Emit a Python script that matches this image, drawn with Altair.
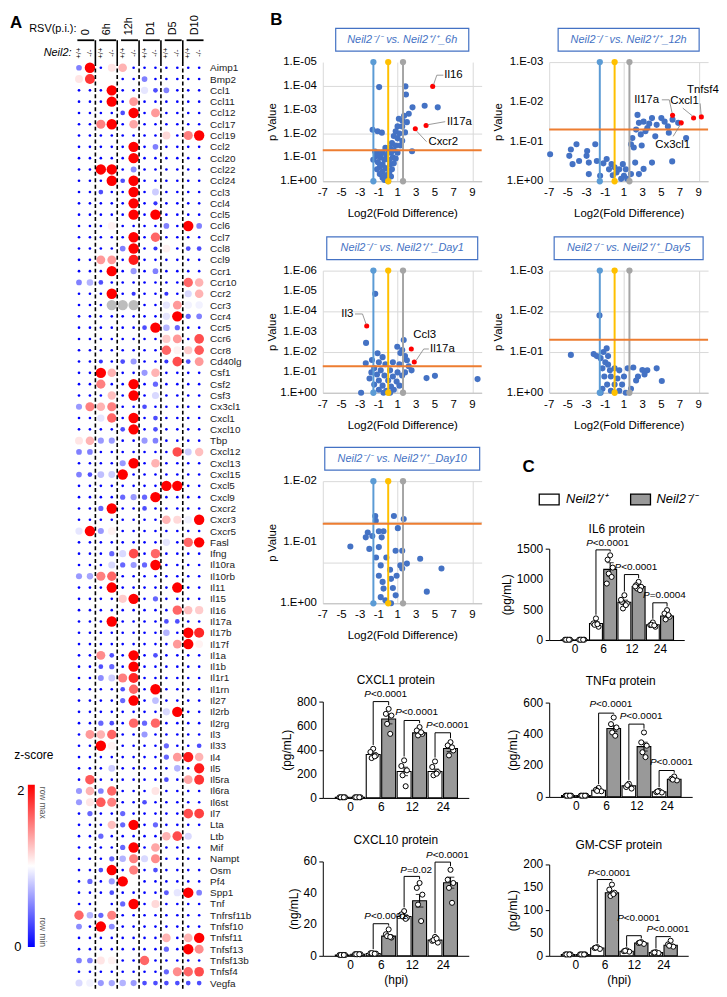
import altair as alt
import pandas as pd

FONT = "Liberation Sans"
BLUE = "#4472C4"
GRAYBAR = "#999999"

# ---------------- Panel A data ----------------
genes = ["Aimp1","Bmp2","Ccl1","Ccl11","Ccl12","Ccl17","Ccl19","Ccl2","Ccl20","Ccl22","Ccl24","Ccl3","Ccl4","Ccl5",
         "Ccl6","Ccl7","Ccl8","Ccl9","Ccr1","Ccr10","Ccr2","Ccr3","Ccr4","Ccr5","Ccr6","Ccr8","Cd40lg","Csf1","Csf2",
         "Csf3","Cx3cl1","Cxcl1","Cxcl10","Tbp","Cxcl12","Cxcl13","Cxcl15","Cxcl5","Cxcl9","Cxcr2","Cxcr3","Cxcr5",
         "Fasl","Ifng","Il10ra","Il10rb","Il11","Il15","Il16","Il17a","Il17b","Il17f","Il1a","Il1b","Il1r1","Il1rn",
         "Il27","Il2rb","Il2rg","Il3","Il33","Il4","Il5","Il5ra","Il6ra","Il6st","Il7","Lta","Ltb","Mif","Nampt","Osm",
         "Pf4","Spp1","Tnf","Tnfrsf11b","Tnfsf10","Tnfsf11","Tnfsf13","Tnfsf13b","Tnfsf4","Vegfa"]
time_groups = ["0", "6h", "12h", "D1", "D5", "D10"]
genotype_tags = ["+/+", "-/-"]
zscore = [
    [0.5,2,0,1.1,1.3,0,0,0,0,0,0,0],
    [1.1,1.8,1.0,1.0,0,0,0.5,0,0,0,0,0],
    [0,0,0,2,0,0,0.9,0.3,0.5,0,0,0],
    [0,0,0,2,0,1.4,0,0,0,0,0,0],
    [0,0,0,0,0.3,2,0,1.4,0,0,0,0],
    [0,0,1.5,2,0,1.35,0,0,0,0,0,0],
    [0,0,0,0,0,0,0,0,1.15,0,1.5,2],
    [0,0,0,0,0,2,0,0.5,0,0,0,0],
    [0,0,0,0,0,2,0,0,0,0,0,0],
    [0,0,2,2,0,0.55,0,0,0,0,0,0],
    [0,0,0,2,0.3,2,0,0,0,0,0,0],
    [0,0,0.3,0,0,2,0,0.8,0,0,0,0],
    [0,0,0,0,0,2,0,0.2,0,0,0,0],
    [0,0,0,0,0,2,0,2,0,0,0,0],
    [0,0,0,1.05,0,0,0,0,0.5,0,2,0.5],
    [0,0,0,0,0,2,0,1.6,0,0,0,0],
    [0,0,0,0,0.5,2,0,0.2,1.05,0,0.3,0.3],
    [0,0,1.4,1.4,0,1.9,0,0,0,0,0,0],
    [0,0,0,2,0,0.6,0,0.5,0,0,0,0],
    [0.5,0.7,0.3,0,0,0,0,0,0,0,1.6,1.3],
    [0,0,0,2,0,0.2,0,0,0.2,0,0.85,1.3],
    [0,0,0,None,None,None,0,0,0.9,1.4,0.95,0.95],
    [0,0,0,0,0,0,0,0,0.9,2,0.4,0.5],
    [0,0,0,0,0,0,0.3,2,0.7,0.4,0,0],
    [0,0,0,0,0,0,0,0,1.2,1.4,0,1.7],
    [0,0,0,0,0,0,0,0,1.6,1.05,1.2,1.65],
    [0,0,0.2,0,0.3,0.6,0,0,0.2,1.7,0.3,1.4],
    [0,0,2,1.3,0,0,0.6,1.3,0,0,0,0],
    [0,0,1.5,0,0,2,0,0.4,0,0,0,0],
    [0,0,0,1.25,0,2,0,0.85,0,0,0,0],
    [0.6,1.5,1.3,1.5,0,0,0.3,0,0,0,0,0],
    [0,0,0.9,1.6,0,2,0,0.3,0,0,0,0],
    [0,0,0,0,0.3,2,0,0.3,0,0,0,0],
    [1.1,1.3,0.6,0.6,0,0,0.6,0.5,0,0,0,0],
    [0.5,0.5,0,0,0,0,0,0,0,1.7,0.8,1.25],
    [0,0,0,0,0.6,2,0,1.3,0,0,0,0],
    [0.5,0.3,0.75,0.8,2,0,0,0,0,0,0,0],
    [0,0,0,0,0,0,0,0,2,2,0,0],
    [0,0,0,0,0.4,0.6,0.4,2,0,0,0,0],
    [0,0,0.4,2,0,0,0.3,0,0,0,0,0],
    [0,0,0,0,0,0,0,0,1.3,1.15,0.95,2],
    [0.9,2,0.6,1.05,0,0,0,0,0,0,0,0],
    [0,0,0,0,0,0,0,0,0.9,0,1.6,2],
    [0,0,0,0.4,0.85,1.7,0,1.6,0,0,0,0],
    [0,0,0,0.85,0.4,0.6,0.4,2,0,0,0,0],
    [0.6,0.65,1.5,1.6,0,0,0,0,0,0,0,0],
    [0,0,0,2,0,0,0,0,0,2,0,0],
    [0,0,0,0,1.2,2,0,0.4,0,0,0,0],
    [0,0,0,0,0,0,0,0,0,1.6,1.25,1.2],
    [0,0,0,2,0,0,0,0,0.3,0.3,0,0],
    [0,0,0,0,0,0,0,0,0.7,0,2,1.85],
    [0,0,0,0,0,0,0,0,0,1.4,2,1.05],
    [0,0,1.45,0.3,0,2,0,0.3,0,0,0,0],
    [0,0,0.3,0.4,0,2,0,0,0,0,0,0],
    [0,0,0.55,0.8,1.5,1.85,0,0,0,0,0,0],
    [0,0,0,0,0.3,1.6,0,2,0,0,0,0],
    [0,0,0,0,0.4,2,0,0.75,0,0,0,0],
    [0,0,0,0,0,0,0,0,0.85,2,0,0],
    [0,0,0.4,0.3,0,1.6,0.4,1.6,0,0,0,0],
    [0,1.4,1.3,1.6,0,0,0.6,0,0,0,0,0],
    [0,0,2,1.05,0,0,0,0,0.4,0,0,0.3],
    [0,0,0,0,0,0,0,0,0.4,1.4,1.9,1.3],
    [0,0,0,0.8,0,0,0,0,0,0.7,0,1.9],
    [0,1.65,0,0,0,0,0,0,0.3,0,1.35,1.8],
    [0.6,1.3,0.5,1.6,0,0,0,1.1,0,0,0,0],
    [0.6,1.1,1.65,1.5,0,0,0.3,0,0,0,0,0],
    [0,0.4,0,0,0.4,0,0,0,0,0,1.7,1.75],
    [0,0,0,1.25,0.4,2,0,0.4,0,0,0,0],
    [0,0,0.4,0,0,0,0,0,1.3,1.7,0.85,1.0],
    [0,0,0,0,0.4,2,0,1.35,0,0,0,0],
    [0,0,0,0.4,0.7,1.5,0.85,1.45,0,0,0,0],
    [0,0,0.3,2,0,1.5,0,0.3,0,0,0,0],
    [0,0.4,0,0.6,2,1.0,0,0,0,0,0,0],
    [0,0,0,0.3,0,0,0,0,0.35,0.9,2,0.5],
    [0,0,1.0,0,0.4,2,0,1.15,0,0,0,0],
    [1.6,0.7,0.4,1.5,0,0,0,0,0,0,0,0],
    [0.55,0,2,0.55,0,0,0,0,0,0,0,0],
    [0,0,0,0,0,0,0,0,1.3,0,1.3,2],
    [0,0,0,0,0,0,0,0,0.4,0,2,1.45],
    [0.5,0.5,1.1,1.05,0,0,1.6,0,0,0,0,0],
    [0,0,0,0,0,0,0,0,0.4,1.45,1.6,1.7],
    [0.85,0.95,0.6,0.65,0.7,0.6,0.3,0.3,0.3,0.3,0.3,0.3],
]

# ---------------- Panel B data (log2 fold difference, -log10 p) ----------------
v6h_x = [-0.97,1.84,1.9,2.6,3.9,5.3,2.2,1.14,1.5,2.0,1.7,1.0,1.5,0.8,1.2,1.8,0.6,1.0,1.5,0.4,0.8,1.3,0.2,0.6,2.55,
         -1.67,-1.14,-0.68,-0.3,0.0,0.3,-0.6,-1.0,-1.4,-0.2,0.5,-0.8,-1.3,0.1,-0.4,0.8,-1.1,-0.6,0.2,0.6,-0.9,-0.3,
         0.4,-1.2,-0.6,0.1,-0.9,-0.3,0.3,-0.6,-0.1,-0.4,0.0,-1.6,1.0]
v6h_y = [3.95,3.98,3.64,3.1,3.17,3.1,2.83,2.62,2.55,2.48,2.75,2.3,2.3,2.1,2.0,2.05,1.9,1.8,1.7,1.6,1.5,1.5,1.4,1.3,1.26,
         2.16,2.1,2.04,1.4,1.3,1.2,1.2,1.2,1.25,1.1,1.0,1.0,1.05,0.9,0.9,0.95,0.8,0.7,0.7,0.75,0.6,0.55,
         0.5,0.5,0.4,0.35,0.3,0.25,0.2,0.15,0.1,0.05,0.0,0.9,1.2]
v6h_red_x = [4.76, 4.05, 2.9]
v6h_red_y = [3.98, 2.34, 2.2]

v12h_x = [-6.9,-4.08,-4.68,-4.85,-4.5,-3.8,-2.94,-3.0,-2.07,-2.76,-1.9,-0.85,-2.76,-1.55,-0.33,0.0,0.2,0.88,1.0,1.35,
          1.75,1.9,2.05,2.2,2.45,2.6,2.8,3.1,3.3,3.5,4.0,4.35,4.5,4.0,3.1,2.6,5.0,5.35,5.7,5.8,6.2,6.8,7.65,6.16,1.75,
          0.7,-1.2,-0.6,0.5,-0.2,1.2,2.9,3.7,2.3]
v12h_y = [0.68,0.93,0.8,0.64,0.43,0.51,0.76,0.64,0.93,0.47,0.51,0.56,0.18,0.14,0.43,0.35,0.22,0.43,0.14,0.06,
          0.93,1.09,0.85,0.47,1.67,1.47,1.18,1.5,1.26,1.34,1.59,1.13,1.42,0.47,0.31,0.18,1.59,1.5,1.38,1.22,1.55,1.47,
          1.09,0.5,0.18,0.06,0.45,0.3,0.3,0.15,0.3,0.9,1.45,1.3]
v12h_red_x = [6.2, 7.13, 8.45, 9.28]
v12h_red_y = [1.66, 1.47, 1.59, 1.62]

vd1_x = [-1.39,-2.37,1.66,0.97,1.3,1.8,1.5,2.0,-1.14,-0.6,-1.74,-2.4,-1.0,-0.3,0.5,1.2,2.2,-1.5,-0.8,0.2,1.0,1.8,
         -1.2,-0.4,0.5,1.49,4.1,5.0,9.56,-2.0,-1.0,0.0,0.9,-1.5,-0.6,0.3,1.2,-1.0,-0.2,0.6,-2.9,-0.5,0.2,2.5,-1.8]
vd1_y = [4.86,2.45,2.59,2.26,1.95,1.8,2.1,1.6,1.94,1.75,1.61,1.45,1.5,1.4,1.5,1.4,1.3,1.2,1.1,1.1,1.0,1.0,
         0.9,0.85,0.8,0.85,0.72,0.83,0.67,0.7,0.6,0.6,0.55,0.4,0.35,0.3,0.35,0.15,0.1,0.15,0.0,0.0,0.0,1.1,1.0]
vd1_red_x = [-2.3, 2.47, 2.79]
vd1_red_y = [3.28, 2.15, 1.51]

vd5_x = [-1.62,-4.68,-2.24,-1.9,-0.85,-1.2,-0.7,-1.5,-1.0,-0.7,-1.3,-0.5,0.0,0.5,1.4,2.0,2.97,3.5,4.5,5.05,1.75,
         -1.1,-0.4,0.3,1.0,2.5,-0.8,0.0,0.8,-1.3,-0.4,0.5,-1.5,1.2,3.2,2.3]
vd5_y = [1.9,0.93,0.95,0.9,1.09,1.0,0.9,0.85,0.75,0.69,0.6,0.55,0.6,0.55,0.6,0.62,0.56,0.55,0.6,0.29,0.1,
         0.4,0.4,0.35,0.4,0.4,0.2,0.2,0.2,0.1,0.05,0.05,0.0,0.0,0.45,0.3]

vd10_x = [-1.39,-1.33,0.61,1.66,1.03,-2.19,-2.4,-1.7,-1.0,-0.5,-0.7,-4.05,-2.02,-1.0,0.79,1.5,3.42,5.7,4.13,-0.8,
          1.3,0.3,-0.5,0.8,-0.3,-0.6,0.9,1.5,2.0,-1.3,-0.2,0.2,-1.0,0.5,-0.8,0.3]
vd10_y = [1.43,1.35,1.43,1.38,1.23,1.16,1.08,1.1,1.18,1.18,1.08,0.93,0.89,0.92,0.86,0.86,0.73,0.57,0.19,0.62,
          0.62,0.4,0.24,0.13,0.05,0.35,0.45,0.57,0.65,0.75,0.75,0.55,0.45,0.25,0.1,0.0]

# ---------------- Panel C data ----------------
hpi_labels = ["0", "6", "12", "24"]
il6_wt_mean = [5, 270, 620, 250];   il6_ko_mean = [5, 1160, 880, 395]
il6_wt_sem = [2, 30, 35, 15];       il6_ko_sem = [2, 110, 30, 30]
il6_wt_pts = [[5, 5, 5, 5, 5], [355, 273, 218, 250, 260], [736, 627, 600, 518, 573, 660], [289, 245, 218, 250, 240]]
il6_ko_pts = [[5, 5, 5, 5, 5], [1391, 1320, 1189, 1091, 1036, 927], [955, 900, 873, 845, 818, 880], [491, 436, 382, 338, 409]]
il6_p = ["<0.0001", "<0.0001", "=0.0004"]
il6_br = [1480, 1075, 611]
il6_lab = [1600, 1195, 731]

cx1_wt_mean = [5, 360, 220, 220];   cx1_ko_mean = [5, 655, 540, 410]
cx1_wt_sem = [1, 15, 35, 20];       cx1_ko_sem = [1, 40, 10, 25]
cx1_wt_pts = [[5, 5, 5, 5, 5], [408, 381, 353, 331, 345], [312, 265, 229, 188, 97], [303, 257, 215, 188, 201]]
cx1_ko_pts = [[5, 5, 5, 5, 5], [739, 698, 684, 615, 532], [588, 560, 532, 519, 545], [463, 436, 394, 353, 420]]
cx1_p = ["<0.0001", "<0.0001", "<0.0001"]
cx1_br = [800, 643, 541]
cx1_lab = [863, 712, 607]

tnf_wt_mean = [8, 42, 70, 32];      tnf_ko_mean = [8, 435, 320, 112]
tnf_wt_sem = [1, 5, 6, 4];          tnf_ko_sem = [1, 18, 28, 5]
tnf_wt_pts = [[8, 8, 8, 8, 8], [57, 45, 36, 38], [84, 63, 53, 75], [38, 30, 28, 35]]
tnf_ko_pts = [[8, 8, 8, 8, 8], [505, 463, 442, 410, 389], [410, 347, 326, 284, 253], [130, 116, 105, 110]]
tnf_p = ["<0.0001", "<0.0001", "<0.0001"]
tnf_br = [533, 463, 168]
tnf_lab = [589, 512, 221]

cx10_wt_mean = [0.5, 1.5, 25, 10];  cx10_ko_mean = [1.0, 12.5, 35, 46.5]
cx10_wt_sem = [0.2, 0.3, 1, 0.8];   cx10_ko_sem = [0.2, 1, 4, 3.5]
cx10_wt_pts = [[0.5]*5, [1.5, 1.6, 1.4, 1.7, 1.3], [28.4, 26.3, 24.2, 25, 23.5], [12, 9.5, 8.4, 10, 11]]
cx10_ko_pts = [[1.0]*5, [16.8, 13.7, 11.6, 12.5, 12], [46.3, 43.2, 38.9, 32.6, 22.1], [54.7, 48.4, 46.3, 43.2, 33.7]]
cx10_p = ["<0.0001", "=0.02", "<0.0001"]
cx10_br = [20.4, 50.5, 59.6]
cx10_lab = [25.3, 54.7, 64.2]

gm_wt_mean = [3, 17, 10, 7];        gm_ko_mean = [3, 138, 28, 23]
gm_wt_sem = [0.5, 1, 1, 0.5];       gm_ko_sem = [0.5, 4, 1.5, 2.5]
gm_wt_pts = [[3]*5, [19, 17, 15, 18], [12, 10, 9, 11], [8, 7, 6, 7]]
gm_ko_pts = [[3]*5, [156, 145, 138, 131, 135], [30, 28, 26, 29], [33, 25, 20, 22]]
gm_p = ["<0.0001", "<0.0001", "<0.0001"]
gm_br = [167, 44, 42]
gm_lab = [182, 82, 58]

ONE = pd.DataFrame({"k": [0]})


def frame(W, H, L, T, R, B):
    """Invisible rectangle that fixes the bounding box of a panel for the concat layout."""
    return alt.Chart(ONE).mark_rect(opacity=0).encode(
        x=alt.value(-L), x2=alt.value(W + R), y=alt.value(-T), y2=alt.value(H + B))


# ================= Panel A =================
CW, RH = 11.0, 11.38
HW, HH = CW * 12, RH * len(genes)
rows = []
for gi, g in enumerate(genes):
    for ci, v in enumerate(zscore[gi]):
        rows.append({"gene": g, "ci": ci, "z": v})
heat_df = pd.DataFrame(rows)
heat_df["z"] = heat_df["z"].astype(float)
valid_df = heat_df[heat_df["z"].notna()]
miss_df = heat_df[heat_df["z"].isna()]

hx = alt.Scale(domain=[-0.5, 11.5], nice=False, zero=False)
hy = alt.Scale(domain=genes, padding=0.5)
yaxis_genes = alt.Axis(orient="right", title=None, ticks=False, domain=False, labelFontSize=10,
                       labelPadding=5, labelColor="#222222", labelLimit=0, labelOverlap=False)

dots = alt.Chart(valid_df).mark_circle(opacity=1).encode(
    x=alt.X("ci:Q", scale=hx, axis=None),
    y=alt.Y("gene:N", sort=genes, scale=hy, axis=yaxis_genes),
    color=alt.Color("z:Q", scale=alt.Scale(domain=[0, 1, 2], range=["#0000ff", "#ffffff", "#ff0000"],
                                           interpolate="rgb"), legend=None),
    size=alt.Size("z:Q", scale=alt.Scale(domain=[0, 2], range=[7, 110]), legend=None),
)
gray = alt.Chart(miss_df).mark_circle(opacity=1, color="#bdbdbd", size=108).encode(
    x=alt.X("ci:Q", scale=hx), y=alt.Y("gene:N", sort=genes, scale=hy))

sep_df = pd.DataFrame({"x": [1.5, 3.5, 5.5, 7.5, 9.5]})
sep_dash = alt.Chart(sep_df).mark_rule(color="black", strokeWidth=1.6, strokeDash=[4, 2.5]).encode(
    x=alt.X("x:Q", scale=hx), y=alt.value(0), y2=alt.value(HH))
sep_solid = alt.Chart(sep_df).mark_rule(color="black", strokeWidth=1.6).encode(
    x=alt.X("x:Q", scale=hx), y=alt.value(-22), y2=alt.value(0))

grp_df = pd.DataFrame({"g": list(range(6)), "label": time_groups})
grp_df["x0"] = grp_df["g"] * 2 - 0.15
grp_df["x1"] = grp_df["g"] * 2 + 1.4
grp_df["xm"] = grp_df["g"] * 2 + 0.6
bars_hdr = alt.Chart(grp_df).mark_rule(color="black", strokeWidth=1.8).encode(
    x=alt.X("x0:Q", scale=hx), x2="x1:Q", y=alt.value(-22))
time_txt = alt.Chart(grp_df).mark_text(angle=270, align="left", baseline="middle", fontSize=11).encode(
    x=alt.X("xm:Q", scale=hx), y=alt.value(-27), text="label:N")
geno_df = pd.DataFrame({"ci": list(range(12)), "tag": genotype_tags * 6})
geno_txt = alt.Chart(geno_df).mark_text(angle=270, align="center", baseline="middle", fontSize=7.5).encode(
    x=alt.X("ci:Q", scale=hx), y=alt.value(-9), text="tag:N")
rsv_txt = alt.Chart(ONE).mark_text(text="RSV(p.i.):", align="right", baseline="middle", fontSize=11).encode(
    x=alt.value(3), y=alt.value(-33))
neil_txt = alt.Chart(ONE).mark_text(text="Neil2:", align="right", baseline="middle", fontSize=11,
                                    fontStyle="italic").encode(x=alt.value(-2), y=alt.value(-9))
a_txt = alt.Chart(ONE).mark_text(text="A", align="left", baseline="top", fontSize=17, fontWeight="bold").encode(
    x=alt.value(-64), y=alt.value(-47))

cb_top, cb_bot = 0.78 * HH, 0.955 * HH
grad = {"gradient": "linear", "x1": 0, "y1": 1, "x2": 0, "y2": 0,
        "stops": [{"offset": 0, "color": "#0000ff"}, {"offset": 0.5, "color": "#ffffff"},
                  {"offset": 1, "color": "#ff0000"}]}
cbar = alt.Chart(ONE).mark_rect(fill=grad).encode(
    x=alt.value(-46), x2=alt.value(-39), y=alt.value(cb_top), y2=alt.value(cb_bot))
zs_txt = alt.Chart(ONE).mark_text(text="z-score", fontSize=12, align="center", baseline="middle").encode(
    x=alt.value(-40), y=alt.value(cb_top - 30))
c2_txt = alt.Chart(ONE).mark_text(text="2", fontSize=13, align="center", baseline="middle").encode(
    x=alt.value(-53), y=alt.value(cb_top + 6))
c0_txt = alt.Chart(ONE).mark_text(text="0", fontSize=13, align="center", baseline="middle").encode(
    x=alt.value(-56), y=alt.value(cb_bot))
rmax_txt = alt.Chart(ONE).mark_text(text="row max", fontSize=8.5, angle=90, align="left", baseline="middle",
                                    color="#555555").encode(x=alt.value(-31), y=alt.value(cb_top + 2))
rmin_txt = alt.Chart(ONE).mark_text(text="row min", fontSize=8.5, angle=90, align="right", baseline="middle",
                                    color="#555555").encode(x=alt.value(-31), y=alt.value(cb_bot))

panelA = alt.layer(dots, gray, sep_dash, sep_solid, bars_hdr, time_txt, geno_txt, rsv_txt, neil_txt, a_txt,
                   cbar, zs_txt, c2_txt, c0_txt, rmax_txt, rmin_txt,
                   frame(HW, HH, 66, 47, 57, 0)).properties(width=HW, height=HH)

# ================= Panel B =================
VW = 160
VFS = 11.5


def volcano(suffix, px, py, rx, ry, labels, leaders, ymax, nsteps, H, box_w, fr, panel=None):
    W = VW
    xsc = alt.Scale(domain=[-7, 10], nice=False, zero=False)
    ysc = alt.Scale(domain=[0, ymax], nice=False, zero=False)
    gvals = [round(i * ymax / nsteps, 4) for i in range(nsteps + 1)]
    xticks = list(range(-7, 10, 2))
    xax = alt.Axis(values=xticks, labels=False, title="Log2(Fold Difference)", grid=True, gridColor="#d9d9d9",
                   ticks=False, domainColor="#bfbfbf", titleFontSize=VFS, titlePadding=6 + VFS + 9,
                   titleFontWeight="normal", titleColor="black")
    yax = alt.Axis(values=gvals, labels=False, title="p Value", grid=True, gridColor="#d9d9d9", ticks=False,
                   domain=False, titleFontSize=VFS, titlePadding=46, titleFontWeight="normal", titleColor="black")
    layers = []
    layers.append(alt.Chart(pd.DataFrame({"x": px, "y": py})).mark_circle(size=38, color=BLUE, opacity=1).encode(
        x=alt.X("x:Q", scale=xsc, axis=xax), y=alt.Y("y:Q", scale=ysc, axis=yax)))
    # tick labels
    xl = pd.DataFrame({"xv": xticks, "lab": [str(v) for v in xticks]})
    layers.append(alt.Chart(xl).mark_text(fontSize=VFS, baseline="top", align="center").encode(
        x=alt.X("xv:Q", scale=xsc), y=alt.value(H + 6), text="lab:N"))
    yl = pd.DataFrame({"yv": list(range(ymax + 1))})
    yl["lab"] = ["1.E+00" if v == 0 else "1.E-0%d" % v for v in yl["yv"]]
    layers.append(alt.Chart(yl).mark_text(fontSize=VFS, baseline="middle", align="right").encode(
        x=alt.value(-6), y=alt.Y("yv:Q", scale=ysc), text="lab:N"))
    thr = pd.DataFrame({"x": [-1.585, 0.0, 1.585], "c": ["#5B9BD5", "#FFC000", "#A5A5A5"],
                        "y0": [0.0] * 3, "y1": [float(ymax)] * 3})
    layers.append(alt.Chart(thr).mark_rule(strokeWidth=2).encode(
        x=alt.X("x:Q", scale=xsc), y=alt.Y("y0:Q", scale=ysc), y2="y1:Q", color=alt.Color("c:N", scale=None)))
    layers.append(alt.Chart(thr).transform_fold(["y0", "y1"], as_=["end", "yy"]).mark_circle(
        size=40, opacity=1).encode(x=alt.X("x:Q", scale=xsc), y=alt.Y("yy:Q", scale=ysc),
                                   color=alt.Color("c:N", scale=None)))
    layers.append(alt.Chart(pd.DataFrame({"y": [1.301], "xa": [-7.0], "xb": [10.0]})).mark_rule(
        color="#ED7D31", strokeWidth=2).encode(y=alt.Y("y:Q", scale=ysc), x=alt.X("xa:Q", scale=xsc), x2="xb:Q"))
    if rx:
        layers.append(alt.Chart(pd.DataFrame({"x": rx, "y": ry})).mark_circle(size=26, color="#FF0000",
                                                                               opacity=1).encode(
            x=alt.X("x:Q", scale=xsc), y=alt.Y("y:Q", scale=ysc)))
    if leaders:
        ld = pd.DataFrame(leaders, columns=["x", "y", "x2", "y2"])
        layers.append(alt.Chart(ld).mark_rule(color="#7f7f7f", strokeWidth=0.8).encode(
            x=alt.X("x:Q", scale=xsc), y=alt.Y("y:Q", scale=ysc), x2="x2:Q", y2="y2:Q"))
    if labels:
        lb = pd.DataFrame(labels, columns=["t", "x", "y", "al"])
        for al in ["left", "right"]:
            sub = lb[lb["al"] == al]
            if len(sub):
                layers.append(alt.Chart(sub).mark_text(align=al, baseline="middle", fontSize=VFS).encode(
                    x=alt.X("x:Q", scale=xsc), y=alt.Y("y:Q", scale=ysc), text="t:N"))
    cx = W / 2
    layers.append(alt.Chart(ONE).mark_rect(fill="white", stroke=BLUE, strokeWidth=1.2).encode(
        x=alt.value(cx - box_w / 2), x2=alt.value(cx + box_w / 2), y=alt.value(-34), y2=alt.value(-11)))
    layers.append(alt.Chart(ONE).mark_text(text="Neil2\u207b/\u207b vs. Neil2\u207a/\u207a_" + suffix, fontSize=11,
                                           fontStyle="italic", color=BLUE, baseline="middle").encode(
        x=alt.value(cx), y=alt.value(-22.5)))
    if panel:
        layers.append(alt.Chart(ONE).mark_text(text=panel, fontSize=17, fontWeight="bold", align="left",
                                               baseline="top").encode(x=alt.value(-53), y=alt.value(-50)))
    layers.append(frame(W, H, *fr))
    return alt.layer(*layers).properties(width=W, height=H)


v6h = volcano("6h", v6h_x, v6h_y, v6h_red_x, v6h_red_y,
              [("Il16", 6.0, 4.45, "left"), ("Il17a", 6.3, 2.5, "left"), ("Cxcr2", 4.3, 1.64, "left")],
              [(4.85, 4.05, 5.2, 4.45), (5.2, 4.45, 5.9, 4.45), (4.2, 2.37, 6.1, 2.5), (3.05, 2.1, 4.1, 1.66)],
              5, 5, 120, 134, (62, 50, 6, 40), panel="B")
vd1 = volcano("Day1", vd1_x, vd1_y, vd1_red_x, vd1_red_y,
              [("Il3", -3.74, 3.85, "right"), ("Ccl3", 2.68, 2.83, "left"), ("Il17a", 4.47, 2.15, "left")],
              [(-3.55, 3.87, -2.75, 3.87), (-2.75, 3.87, -2.35, 3.35), (4.35, 2.15, 3.8, 2.15),
               (3.8, 2.15, 3.0, 1.6)],
              6, 6, 123, 152, (62, 50, 6, 39))
vd10 = volcano("Day10", vd10_x, vd10_y, [], [], [], [], 2, 6, 123, 156, (62, 50, 6, 49))
v12h = volcano("12h", v12h_x, v12h_y, v12h_red_x, v12h_red_y,
               [("Il17a", 4.75, 2.04, "right"), ("Cxcl1", 5.95, 2.02, "left"), ("Tnfsf4", 7.75, 2.29, "left"),
                ("Cx3cl1", 4.35, 0.92, "left")],
               [(5.05, 2.05, 5.85, 2.05), (5.85, 2.05, 6.15, 1.72), (7.3, 1.84, 8.35, 1.64),
                (9.15, 1.96, 9.25, 1.68), (6.26, 1.13, 7.05, 1.43)],
               3, 6, 120, 142, (62, 50, 10, 40))
vd5 = volcano("Day5", vd5_x, vd5_y, [], [], [], [], 3, 6, 123, 150, (62, 50, 10, 62))

# ================= Panel C =================
XDOM = [-0.72, 3.68]
JIT = [0.0, -0.09, 0.09, -0.05, 0.05, -0.12, 0.12]


def twidth(s):
    w = {"P": 6.67, "<": 5.84, "=": 5.84, ".": 2.78}
    return sum(w.get(c, 5.56) for c in s)


def barchart(title, ytitle, ymax, yvals, wm, km, ws, ks, wp, kp, ptxt, brh, laby, W, H, fr, xtitle=None,
             title_dy=-22, extras=None):
    xsc = alt.Scale(domain=XDOM, nice=False, zero=False)
    ysc = alt.Scale(domain=[0, ymax], nice=False, zero=False)
    ppu = W / (XDOM[1] - XDOM[0])
    bw = 0.42 * ppu
    br, pr = [], []
    for g in range(4):
        for m, s, fill, off, pts in ((wm[g], ws[g], "white", -0.25, wp[g]), (km[g], ks[g], GRAYBAR, 0.25, kp[g])):
            br.append({"pos": g + off, "mean": m, "zero": 0.0, "lo": max(m - s, 0), "hi": m + s, "fill": fill})
            for k, v in enumerate(pts):
                pr.append({"pos": g + off + JIT[k % len(JIT)], "val": v})
    bdf = pd.DataFrame(br)
    pdf = pd.DataFrame(pr)
    lab_w = 12 * 0.556 * len(str(max(yvals)))
    xax = alt.Axis(values=[0, 1, 2, 3], labelExpr="['0','6','12','24'][datum.value]", ticks=False, grid=False,
                   domainColor="black", labelFontSize=12, labelPadding=4, title=xtitle, titleFontSize=12,
                   titlePadding=4, titleFontWeight="normal", labelColor="black", titleColor="black",
                   labelOverlap=False)
    yax = alt.Axis(values=yvals, labels=False, grid=False, domainColor="black", tickColor="black", tickSize=4,
                   title=ytitle, titleFontSize=12, titlePadding=lab_w + 5, titleFontWeight="normal",
                   titleColor="black")
    L = []
    L.append(alt.Chart(bdf).mark_bar(stroke="black", strokeWidth=1.1, size=bw).encode(
        x=alt.X("pos:Q", scale=xsc, axis=xax), y=alt.Y("mean:Q", scale=ysc, axis=yax), y2="zero:Q",
        fill=alt.Fill("fill:N", scale=None)))
    yl = pd.DataFrame({"yv": yvals, "lab": [str(v) for v in yvals]})
    L.append(alt.Chart(yl).mark_text(fontSize=12, align="right", baseline="middle").encode(
        x=alt.value(-6), y=alt.Y("yv:Q", scale=ysc), text="lab:N"))
    L.append(alt.Chart(bdf).mark_rule(color="black", strokeWidth=1.1).encode(
        x=alt.X("pos:Q", scale=xsc), y=alt.Y("lo:Q", scale=ysc), y2="hi:Q"))
    L.append(alt.Chart(bdf).transform_fold(["lo", "hi"], as_=["e", "v"]).mark_tick(
        orient="horizontal", size=bw * 0.55, thickness=1.1, color="black").encode(
        x=alt.X("pos:Q", scale=xsc), y=alt.Y("v:Q", scale=ysc)))
    L.append(alt.Chart(pdf).mark_point(shape="circle", filled=True, fill="white", stroke="black",
                                       strokeWidth=1, size=26, opacity=1).encode(
        x=alt.X("pos:Q", scale=xsc), y=alt.Y("val:Q", scale=ysc)))
    brk = []
    for i, g in enumerate([1, 2, 3]):
        lw = max(max(wp[g]), wm[g] + ws[g]) + 0.04 * ymax
        lk = max(max(kp[g]), km[g] + ks[g]) + 0.04 * ymax
        tot = twidth("P" + ptxt[i])
        cx = g + 0.12
        anchor = cx + (-tot / 2 + 6.67) / ppu
        brk.append({"xa": g - 0.25, "xb": g + 0.25, "h": brh[i], "lw": min(lw, brh[i]), "lk": min(lk, brh[i]),
                    "ax": anchor, "ly": laby[i], "t": ptxt[i]})
    kdf = pd.DataFrame(brk)
    L.append(alt.Chart(kdf).mark_rule(color="black", strokeWidth=1).encode(
        x=alt.X("xa:Q", scale=xsc), x2="xb:Q", y=alt.Y("h:Q", scale=ysc)))
    L.append(alt.Chart(kdf).mark_rule(color="black", strokeWidth=1).encode(
        x=alt.X("xa:Q", scale=xsc), y=alt.Y("lw:Q", scale=ysc), y2="h:Q"))
    L.append(alt.Chart(kdf).mark_rule(color="black", strokeWidth=1).encode(
        x=alt.X("xb:Q", scale=xsc), y=alt.Y("lk:Q", scale=ysc), y2="h:Q"))
    L.append(alt.Chart(kdf).mark_text(text="P", fontStyle="italic", fontSize=10, align="right",
                                      baseline="middle").encode(
        x=alt.X("ax:Q", scale=xsc), y=alt.Y("ly:Q", scale=ysc)))
    L.append(alt.Chart(kdf).mark_text(fontSize=10, align="left", baseline="middle").encode(
        x=alt.X("ax:Q", scale=xsc), y=alt.Y("ly:Q", scale=ysc), text="t:N"))
    L.append(alt.Chart(ONE).mark_text(text=title, fontSize=12, align="center", baseline="middle").encode(
        x=alt.value(W / 2), y=alt.value(title_dy)))
    if extras:
        L.extend(extras)
    L.append(frame(W, H, *fr))
    return alt.layer(*L).properties(width=W, height=H)


legend_marks = [
    alt.Chart(ONE).mark_text(text="C", fontSize=17, fontWeight="bold", align="left", baseline="top").encode(
        x=alt.value(-27), y=alt.value(-90)),
    alt.Chart(ONE).mark_rect(fill="white", stroke="black", strokeWidth=1.3).encode(
        x=alt.value(-10), x2=alt.value(10), y=alt.value(-55), y2=alt.value(-44)),
    alt.Chart(ONE).mark_rect(fill=GRAYBAR, stroke="black", strokeWidth=1.3).encode(
        x=alt.value(82), x2=alt.value(102), y=alt.value(-55), y2=alt.value(-44)),
    alt.Chart(ONE).mark_text(text="Neil2\u207a/\u207a", fontSize=13, fontStyle="italic", align="left",
                             baseline="middle").encode(x=alt.value(17), y=alt.value(-49.5)),
    alt.Chart(ONE).mark_text(text="Neil2\u207b/\u207b", fontSize=13, fontStyle="italic", align="left",
                             baseline="middle").encode(x=alt.value(108), y=alt.value(-49.5)),
]

il6 = barchart("IL6 protein", "(pg/mL)", 1500, [0, 500, 1000, 1500], il6_wt_mean, il6_ko_mean, il6_wt_sem,
               il6_ko_sem, il6_wt_pts, il6_ko_pts, il6_p, il6_br, il6_lab, 136, 92, (62, 95, 10, 23),
               title_dy=-20, extras=legend_marks)
cx1 = barchart("CXCL1 protein", "(pg/mL)", 800, [0, 200, 400, 600, 800], cx1_wt_mean, cx1_ko_mean, cx1_wt_sem,
               cx1_ko_sem, cx1_wt_pts, cx1_ko_pts, cx1_p, cx1_br, cx1_lab, 147, 97, (62, 50, 6, 24))
tnf = barchart("TNF\u03b1 protein", "(pg/mL)", 600, [0, 200, 400, 600], tnf_wt_mean, tnf_ko_mean, tnf_wt_sem,
               tnf_ko_sem, tnf_wt_pts, tnf_ko_pts, tnf_p, tnf_br, tnf_lab, 144, 95, (62, 40, 10, 28))
cx10 = barchart("CXCL10 protein", "(ng/mL)", 60, [0, 20, 40, 60], cx10_wt_mean, cx10_ko_mean, cx10_wt_sem,
                cx10_ko_sem, cx10_wt_pts, cx10_ko_pts, cx10_p, cx10_br, cx10_lab, 147, 95, (62, 40, 6, 35),
                xtitle="(hpi)")
gm = barchart("GM-CSF protein", "(pg/mL)", 200, [0, 50, 100, 150, 200], gm_wt_mean, gm_ko_mean, gm_wt_sem,
              gm_ko_sem, gm_wt_pts, gm_ko_pts, gm_p, gm_br, gm_lab, 140, 92, (62, 40, 10, 35), xtitle="(hpi)",
              title_dy=-20)

left_col = alt.vconcat(v6h, vd1, vd10, cx1, cx10, spacing=0)
right_col = alt.vconcat(v12h, vd5, il6, tnf, gm, spacing=0)

chart = alt.hconcat(panelA, left_col, right_col, spacing=0)
chart = chart.properties(padding={"left": 0, "top": 0, "right": 0, "bottom": 0}).configure_view(
    stroke=None).configure_axis(labelFont=FONT, titleFont=FONT).configure_text(font=FONT)

chart.save("out.html", embed_options={"renderer": "svg", "actions": False})
